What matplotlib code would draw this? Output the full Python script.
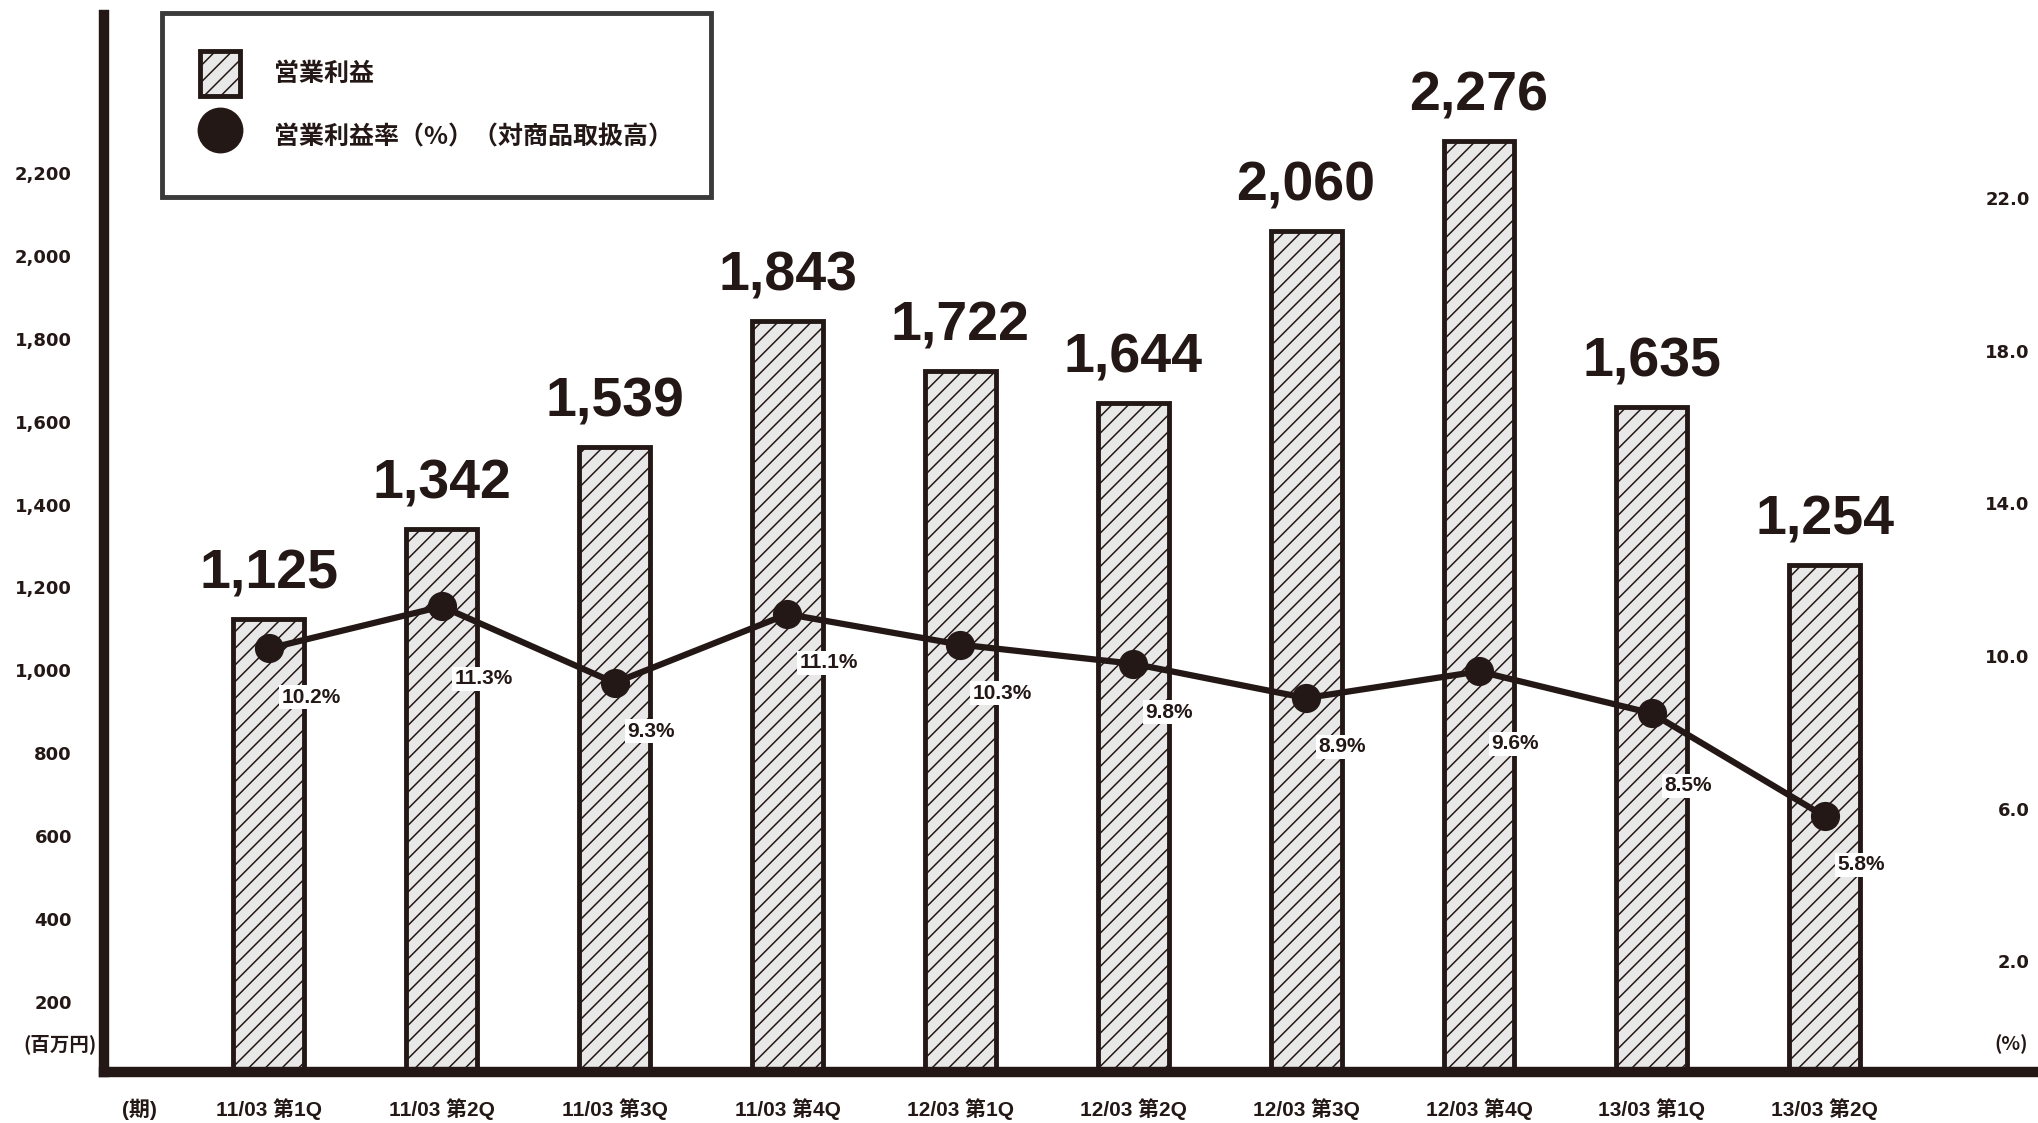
import numpy as np
import matplotlib
matplotlib.use('Agg')
import matplotlib.pyplot as plt
from matplotlib.patches import Patch
from matplotlib.lines import Line2D

plt.rcParams['font.family'] = ['Liberation Sans', 'Noto Sans CJK JP', 'DejaVu Sans']
plt.rcParams['hatch.linewidth'] = 1.1

INK = '#231815'

quarters = ['11/03 第1Q', '11/03 第2Q', '11/03 第3Q', '11/03 第4Q', '12/03 第1Q',
            '12/03 第2Q', '12/03 第3Q', '12/03 第4Q', '13/03 第1Q', '13/03 第2Q']
profit = [1125, 1342, 1539, 1843, 1722, 1644, 2060, 2276, 1635, 1254]
margin = [10.2, 11.3, 9.3, 11.1, 10.3, 9.8, 8.9, 9.6, 8.5, 5.8]

left_ticks = list(range(200, 2201, 200))
right_ticks = [2.0, 6.0, 10.0, 14.0, 18.0, 22.0]

# how far below the point each % label sits (points)
pct_dy = [35, 52, 35, 35, 35, 35, 35, 52, 52, 35]

fig = plt.figure(figsize=(20.38, 11.23), dpi=100)
ax = fig.add_axes([0.051, 0.0454, 0.947, 0.9412])
x = np.arange(len(quarters))

ax.bar(x, profit, width=0.41, facecolor='#e8e8e8', edgecolor=INK, linewidth=3.5,
       hatch='//', zorder=2)
for i, v in enumerate(profit):
    ax.annotate(f'{v:,}', (i, v), xytext=(0, 22), textcoords='offset points',
                ha='center', va='baseline', fontsize=40, fontweight='bold', color=INK)

ax.set_xlim(-0.954, 10.21)
ax.set_ylim(31, 2581)
ax.set_yticks(left_ticks, [f'{t:,}' for t in left_ticks])
ax.tick_params(axis='y', length=0, pad=23, labelsize=13, labelcolor=INK)
for t in ax.get_yticklabels():
    t.set_family('DejaVu Sans')
    t.set_fontweight('bold')

ax.set_xticks(list(x) + [-0.746], quarters + ['(期)'])
ax.tick_params(axis='x', length=0, pad=19, labelsize=15, labelcolor=INK)
for t in ax.get_xticklabels():
    t.set_fontweight('bold')

for s in ['top', 'right']:
    ax.spines[s].set_visible(False)
for s in ['left', 'bottom']:
    ax.spines[s].set_linewidth(7.5)
    ax.spines[s].set_color(INK)
    ax.spines[s].set_capstyle('projecting')

ax.text(-0.004, 0.0265, '(百万円)', transform=ax.transAxes, ha='right', va='center',
        fontsize=14, fontweight='bold', color=INK, family='Noto Sans CJK JP')

# margin line on the right scale
ax2 = ax.twinx()
ax2.plot(x, margin, color=INK, lw=4.5, marker='o', ms=20, zorder=3)
for i, p in enumerate(margin):
    ax2.annotate(f'{p}%', (i, p), xytext=(9, -pct_dy[i]), textcoords='offset points',
                 ha='left', va='center', fontsize=15, fontweight='bold', color=INK,
                 bbox=dict(boxstyle='square,pad=0.12', fc='white', ec='none'))
ax2.set_ylim(-0.9, 26.8)
ax2.set_yticks(right_ticks, [f'{t:.1f}' for t in right_ticks])
ax2.tick_params(axis='y', length=0, pad=-3, labelsize=13, labelcolor=INK)
for t in ax2.get_yticklabels():
    t.set_ha('right')
    t.set_family('DejaVu Sans')
    t.set_fontweight('bold')
for s in ax2.spines.values():
    s.set_visible(False)
ax2.text(0.997, 0.0265, '(%)', transform=ax2.transAxes, ha='right', va='center',
         fontsize=14, fontweight='bold', color=INK, family='Noto Sans CJK JP')

handles = [Patch(facecolor='#e8e8e8', edgecolor=INK, linewidth=3.5, hatch='//'),
           Line2D([], [], color=INK, marker='o', ms=32, ls='none')]
labels = ['営業利益', '営業利益率（%）（対商品取扱高）']
leg = fig.legend(handles, labels, loc='upper left', bbox_to_anchor=(162 / 2038, 1 - 13 / 1123),
                 fancybox=False, framealpha=1, edgecolor='#3a3a3a',
                 prop={'family': 'Noto Sans CJK JP', 'weight': 'bold', 'size': 18},
                 handlelength=1.6, handleheight=2.4, handletextpad=1.4,
                 borderpad=1.5, labelspacing=0.75, borderaxespad=0)
leg.get_frame().set_linewidth(3.5)
for t in leg.get_texts():
    t.set_color(INK)

fig.savefig('out.png', dpi=100)
